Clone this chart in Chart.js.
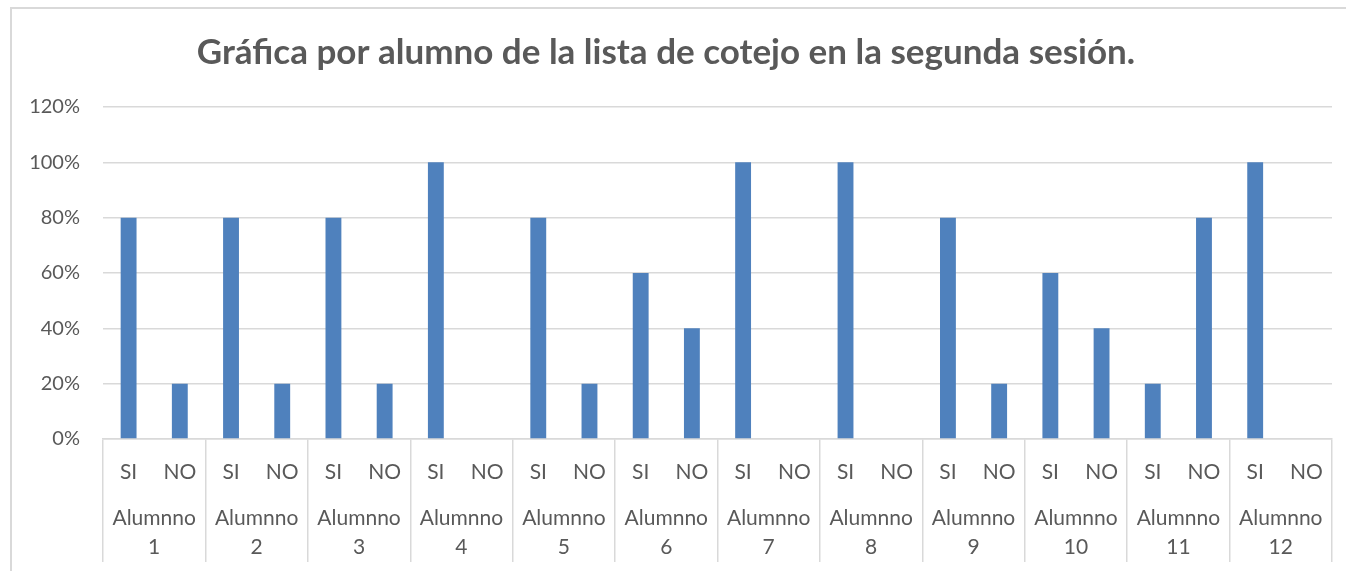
<!DOCTYPE html>
<html>
<head>
<meta charset="utf-8">
<script src="https://cdn.jsdelivr.net/npm/chart.js@4.4.1/dist/chart.umd.min.js"></script>
<style>
  html, body { margin: 0; padding: 0; background: #fff; overflow: hidden; }
  #frame { position: absolute; left: 10px; top: 7px; width: 1400px; height: 600px; border: 2px solid #D9D9D9; box-sizing: border-box; }
  #myChart { position: absolute; left: 0; top: 0; }
</style>
</head>
<body>
<div id="frame"></div>
<canvas id="myChart" width="1346" height="571"></canvas>
<script>
const students = ["1", "2", "3", "4", "5", "6", "7", "8", "9", "10", "11", "12"];
const answers = ["SI", "NO"];
const siValues = [0.8, 0.8, 0.8, 1.0, 0.8, 0.6, 1.0, 1.0, 0.8, 0.6, 0.2, 1.0];
const noValues = [0.2, 0.2, 0.2, 0.0, 0.2, 0.4, 0.0, 0.0, 0.2, 0.4, 0.8, 0.0];
const yTicks = [0, 0.2, 0.4, 0.6, 0.8, 1.0, 1.2];

// flatten into the 24 inner categories (SI / NO per student)
const innerLabels = [];
const values = [];
students.forEach((s, i) => {
  innerLabels.push(answers[0], answers[1]);
  values.push(siValues[i], noValues[i]);
});
const groupLabels = students.map((s) => ["Alumnno", s]);

const gray = "#595959";
const lineGray = "#D9D9D9";
const font = "Lato, 'Open Sans', sans-serif";

const myChart = new Chart(document.querySelector("#myChart"), {
  type: "bar",
  data: {
    labels: innerLabels,
    datasets: [
      {
        data: values,
        xAxisID: "x",
        yAxisID: "y",
        backgroundColor: "#4F81BD",
        barPercentage: 0.31,
        categoryPercentage: 1,
      },
    ],
  },
  options: {
    responsive: false,
    animation: false,
    layout: { padding: { left: 0, right: 14, top: 0, bottom: 8 } },
    plugins: {
      legend: { display: false },
      tooltip: { enabled: false },
      title: {
        display: true,
        text: "Gráfica por alumno de la lista de cotejo en la segunda sesión.",
        color: gray,
        font: { family: font, size: 35, weight: "bold", lineHeight: 1.2 },
        padding: { top: 32, bottom: 33 },
      },
    },
    scales: {
      // SI / NO row, mirrored so its labels sit above its thin box
      x: {
        type: "category",
        position: "bottom",
        weight: 2,
        offset: true,
        afterFit: (s) => {
          s.height = 1;
          // the big tick padding would otherwise be reserved left/right
          s.paddingLeft = 0;
          s.paddingRight = 0;
        },
        ticks: {
          color: gray,
          maxRotation: 0,
          autoSkip: false,
          mirror: true,
          padding: 75.5,
          font: { family: font, size: 21, lineHeight: 1.38 },
        },
        grid: { display: false, offset: true },
        border: { display: false },
      },
      // group axis sits right under the plot and draws the separators for both rows
      x2: {
        type: "category",
        position: "bottom",
        weight: 1,
        labels: groupLabels,
        offset: true,
        afterFit: (s) => {
          s.height = 123;
          s.paddingLeft = 0;
          s.paddingRight = 0;
        },
        ticks: {
          color: gray,
          maxRotation: 0,
          autoSkip: false,
          padding: -58.5,
          font: { family: font, size: 21, lineHeight: 1.38 },
        },
        grid: {
          offset: true,
          drawOnChartArea: false,
          tickLength: 123,
          lineWidth: 1.5,
          color: lineGray,
        },
        border: { display: true, color: lineGray, width: 1.5 },
      },
      y: {
        min: 0,
        max: 1.2,
        afterBuildTicks: (s) => {
          s.ticks = yTicks.map((v) => ({ value: v }));
        },
        afterFit: (s) => {
          s.width = 103;
        },
        ticks: {
          color: gray,
          padding: 23,
          font: { family: font, size: 20 },
          callback: (v) => Math.round(v * 100) + "%",
        },
        grid: { color: lineGray, lineWidth: 1.5, drawTicks: false },
        border: { display: false },
      },
    },
  },
});
</script>
</body>
</html>
